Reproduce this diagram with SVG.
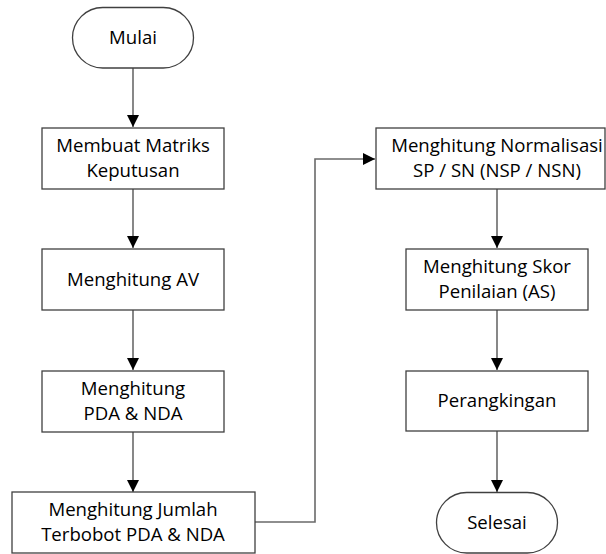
<svg xmlns="http://www.w3.org/2000/svg" width="606" height="554" viewBox="0 0 606 554">
<style>
.n{fill:#fff;stroke:#404040;stroke-width:1.3}
.t{font-family:"Open Sans","Noto Sans",sans-serif;font-size:18.6px;fill:#000;text-anchor:middle}
.c{fill:none;stroke:#6a6a6a;stroke-width:1.6}
</style>
<defs>
<marker id="ah" viewBox="0 0 12 12" refX="12" refY="6" markerWidth="12" markerHeight="12" markerUnits="userSpaceOnUse" orient="auto">
<path d="M0,0 L12,6 L0,12 Z" fill="#000"/>
</marker>
</defs>
<rect width="606" height="554" fill="#fff"/>
<g id="connectors">
<line class="c" x1="133" y1="68" x2="133" y2="127" marker-end="url(#ah)"/>
<line class="c" x1="133" y1="189" x2="133" y2="248" marker-end="url(#ah)"/>
<line class="c" x1="133" y1="310" x2="133" y2="370" marker-end="url(#ah)"/>
<line class="c" x1="133" y1="432" x2="133" y2="492" marker-end="url(#ah)"/>
<polyline class="c" points="255,522 315,522 315,159 375,159" marker-end="url(#ah)"/>
<line class="c" x1="497" y1="189" x2="497" y2="248" marker-end="url(#ah)"/>
<line class="c" x1="497" y1="310" x2="497" y2="370" marker-end="url(#ah)"/>
<line class="c" x1="497" y1="431" x2="497" y2="492" marker-end="url(#ah)"/>
</g>
<g id="mulai">
<rect class="n" x="72.5" y="7.5" width="121" height="60.5" rx="30.25"/>
<text class="t" x="133" y="44">Mulai</text>
</g>
<g id="matriks">
<rect class="n" x="42" y="128" width="182" height="61"/>
<text class="t" x="133" y="152">Membuat Matriks</text>
<text class="t" x="133" y="177">Keputusan</text>
</g>
<g id="av">
<rect class="n" x="42" y="249" width="182" height="61"/>
<text class="t" x="133" y="286">Menghitung AV</text>
</g>
<g id="pda">
<rect class="n" x="42" y="371" width="182" height="61"/>
<text class="t" x="133" y="395">Menghitung</text>
<text class="t" x="133" y="420">PDA &amp; NDA</text>
</g>
<g id="jumlah">
<rect class="n" x="12" y="492" width="243" height="61"/>
<text class="t" x="133" y="516">Menghitung Jumlah</text>
<text class="t" x="133" y="541">Terbobot PDA &amp; NDA</text>
</g>
<g id="normalisasi">
<rect class="n" x="376" y="128" width="229" height="61"/>
<text class="t" x="497" y="152">Menghitung Normalisasi</text>
<text class="t" x="497" y="177">SP / SN (NSP / NSN)</text>
</g>
<g id="skor">
<rect class="n" x="406" y="249" width="182" height="61"/>
<text class="t" x="497" y="273">Menghitung Skor</text>
<text class="t" x="497" y="298">Penilaian (AS)</text>
</g>
<g id="rank">
<rect class="n" x="406" y="371" width="182" height="60"/>
<text class="t" x="497" y="407">Perangkingan</text>
</g>
<g id="selesai">
<rect class="n" x="436.5" y="492.5" width="121" height="60.5" rx="30.25"/>
<text class="t" x="497" y="529">Selesai</text>
</g>
</svg>
